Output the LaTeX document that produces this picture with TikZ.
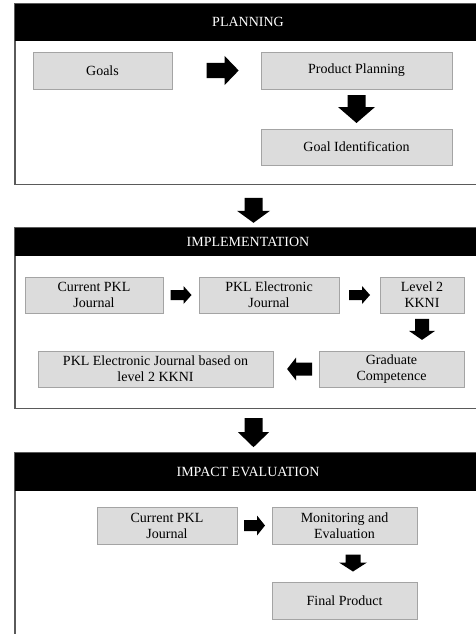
\documentclass[tikz,border=0pt]{standalone}
\usepackage{fontspec}
\setmainfont{Liberation Serif}
\usepackage{tikz}
\usetikzlibrary{calc}

\definecolor{boxfill}{HTML}{DCDCDC}
\definecolor{boxline}{HTML}{A4A4A4}
\definecolor{frameline}{HTML}{5A5A5A}

\tikzset{
  box/.style={draw=boxline, fill=boxfill, line width=0.9pt, align=center, inner sep=1pt, text=black},
  frame/.style={draw=frameline, line width=1pt, minimum width=466, inner sep=0pt},
  header/.style={fill=black, text=white, minimum width=466, inner sep=0pt},
  pics/barrow/.style n args={4}{code={
    \fill[black] (-#1/2,-#3/2) -- (#1/2-#4,-#3/2) -- (#1/2-#4,-#2/2) -- (#1/2,0)
      -- (#1/2-#4,#2/2) -- (#1/2-#4,#3/2) -- (-#1/2,#3/2) -- cycle;
  }}
}

\begin{document}
\begin{tikzpicture}[x=1pt, y=-1pt, font=\fontsize{14}{16}\selectfont]
    \useasboundingbox (0,0) rectangle (476,634);
    \clip (0,0) rectangle (476,634);
    \fill[white] (0,0) rectangle (476,634);

    % draw the three frames with their headers
    \node[frame, minimum height=180] (f1) at (248,94) {};
    \node[header, minimum height=37, anchor=north] (h1) at (f1.north) {PLANNING};
    \draw[frameline, line width=1pt] (f1.north west) rectangle (f1.south east);

    \node[frame, minimum height=180] (f2) at (248,318) {};
    \node[header, minimum height=28, anchor=north] (h2) at (f2.north) {IMPLEMENTATION};
    \draw[frameline, line width=1pt] (f2.north west) rectangle (f2.south east);

    \node[frame, minimum height=207] (f3) at (248,556.5) {};
    \node[header, minimum height=38, anchor=north] (h3) at (f3.north) {IMPACT EVALUATION};
    \draw[frameline, line width=1pt] (f3.north west) rectangle (f3.south east);

    % planning boxes
    \node[box, minimum width=139, minimum height=37] (goals) at (102.5,70.5) {Goals};
    \node[box, minimum width=191, minimum height=37] (prodplan) at (356.5,70.5) {Product Planning};
    \node[box, minimum width=191, minimum height=36] (goalid) at (356.5,147) {Goal Identification};

    % implementation boxes
    \node[box, minimum width=138, minimum height=36] (curjournal) at (94,295) {Current PKL\\Journal};
    \node[box, minimum width=140, minimum height=36] (eljournal) at (269,295) {PKL Electronic\\Journal};
    \node[box, minimum width=84, minimum height=36] (level) at (422,295) {Level 2\\KKNI};
    \node[box, minimum width=145, minimum height=36] (graduate) at (391.5,369) {Graduate\\Competence};
    \node[box, minimum width=235, minimum height=36] (based) at (155.5,369) {PKL Electronic  Journal based on\\level 2 KKNI};

    % impact evaluation boxes
    \node[box, minimum width=140, minimum height=37] (curjournalb) at (167,525.5) {Current PKL\\Journal};
    \node[box, minimum width=145, minimum height=37] (monitoring) at (344.5,525.5) {Monitoring and\\Evaluation};
    \node[box, minimum width=145, minimum height=37] (final) at (344.5,600.5) {Final Product};

    % draw block arrows
    \path (goals.east) -- (prodplan.west) pic[pos=0.57, sloped, allow upside down] {barrow={32}{29}{15}{14}};
    \path (prodplan.south) -- (goalid.north) pic[midway, sloped, allow upside down] {barrow={28}{37}{18}{16}};

    \path ([xshift=5.5]f1.south) -- ([xshift=5.5]f2.north) pic[pos=0.6, sloped, allow upside down] {barrow={25}{33}{18}{12}};

    \path (curjournal.east) -- (eljournal.west) pic[midway, sloped, allow upside down] {barrow={21}{18}{10}{8}};
    \path (eljournal.east) -- (level.west) pic[midway, sloped, allow upside down] {barrow={21}{18}{10}{8}};
    \path (level.south) -- (level.south |- graduate.north) pic[pos=0.43, sloped, allow upside down] {barrow={21}{26}{14}{9}};
    \path (graduate.west) -- (based.east) pic[pos=0.42, sloped, allow upside down] {barrow={25}{23}{13}{9}};

    \path ([xshift=5.5]f2.south) -- ([xshift=5.5]f3.north) pic[pos=0.55, sloped, allow upside down] {barrow={29}{31}{18}{15}};

    \path (curjournalb.east) -- (monitoring.west) pic[midway, sloped, allow upside down] {barrow={21}{20}{11}{8}};
    \path ([xshift=8.5]monitoring.south) -- ([xshift=8.5]final.north) pic[midway, sloped, allow upside down] {barrow={17}{28}{15}{9}};

\end{tikzpicture}
\end{document}
